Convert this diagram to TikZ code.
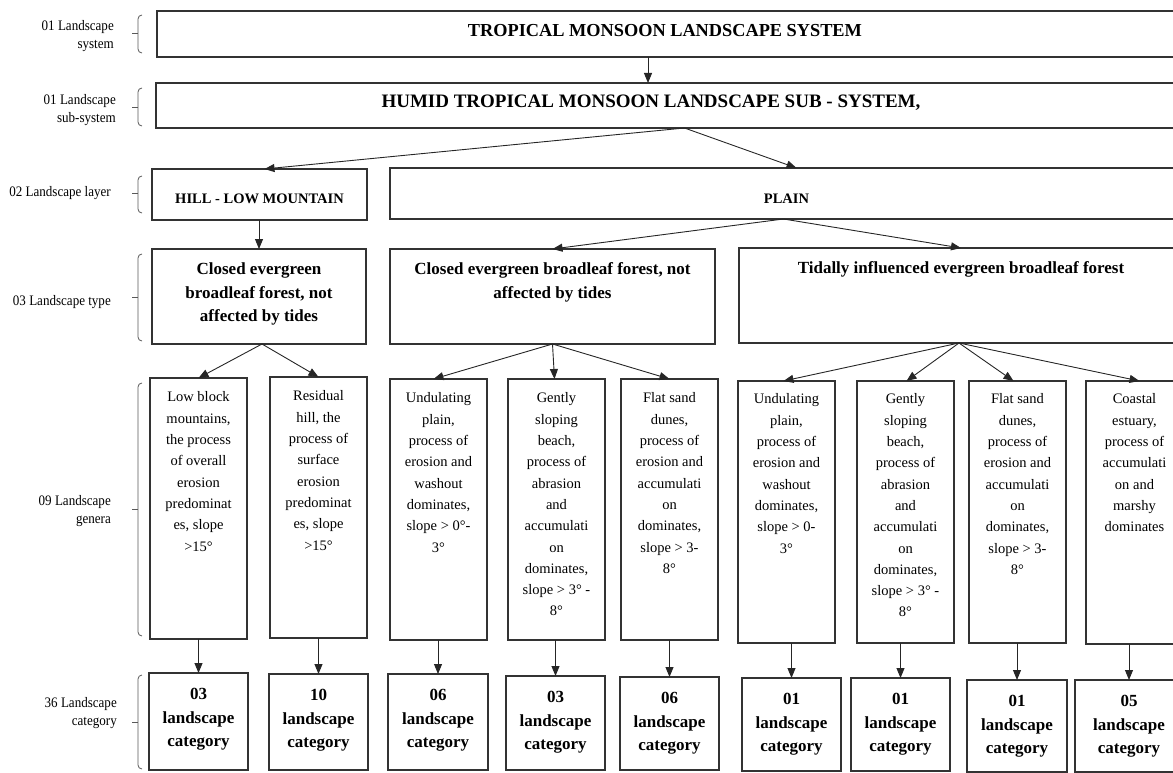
\documentclass[tikz,border=0pt]{standalone}
\usepackage{fontspec}
\setmainfont{Liberation Serif}
\newfontfamily\lblfont{Liberation Serif}[FakeStretch=0.9]
\usetikzlibrary{arrows.meta}
\newcommand{\bxt}[4]{\parbox[c][#2pt][t]{#1pt}{\centering\vspace*{#3pt}\strut #4}}
\newcommand{\ftitle}{\fontsize{18.3}{22}\selectfont\bfseries}
\newcommand{\fsub}{\fontsize{19}{22}\selectfont\bfseries}
\newcommand{\flayer}{\fontsize{14.5}{18}\selectfont\bfseries}
\newcommand{\ftype}{\fontsize{17}{23.5}\selectfont\bfseries}
\newcommand{\fgen}{\fontsize{14.5}{21.3}\selectfont}
\newcommand{\fcat}{\fontsize{17}{23.5}\selectfont\bfseries}
\begin{document}
\begin{tikzpicture}[x=1pt,y=-1pt,
  bx/.style={draw=black!80, line width=1.1pt, inner sep=0pt, outer sep=0pt, anchor=north west},
  arr/.style={-{Triangle[length=10pt,width=8pt]}, line width=0.9pt, draw=black!85},
  lbl/.style={anchor=east, align=right, inner sep=0pt, font=\lblfont\fontsize{14.5}{18.5}\selectfont},
  brc/.style={draw=black!65, line width=0.8pt}]
\useasboundingbox (0,0) rectangle (1173,773);
\clip (0,0) rectangle (1173,773);

% left labels
\node[lbl] (l1) at (114,36) {01 Landscape\\system};
\node[lbl] (l2) at (116,110) {01 Landscape\\sub-system};
\node[lbl] (l3) at (111,193) {02 Landscape layer};
\node[lbl] (l4) at (111,302) {03 Landscape type};
\node[lbl] (l5) at (111,511) {09 Landscape\\genera};
\node[lbl] (l6) at (117,713) {36 Landscape\\category};
\foreach \t/\b/\m in {15/53/33, 88/126/107, 176/213/193, 254/341/297, 383/636/509, 675/769/722}{
  \draw[brc] (142,\t) to[out=180,in=90] (138,\t+4) -- (138,\b-4) to[out=-90,in=180] (142,\b);
  \draw[brc] (132,\m) -- (138,\m);
}

% top levels
\node[bx,font=\ftitle] (sys) at (157,11) {\bxt{1026}{46}{10}{TROPICAL MONSOON LANDSCAPE SYSTEM\hspace*{10pt}}};
\node[bx,font=\fsub] (sub) at (156,83) {\bxt{1027}{45}{9.6}{HUMID TROPICAL MONSOON LANDSCAPE SUB - SYSTEM,\hspace*{37pt}}};
\node[bx,font=\flayer] (hill) at (152,169) {\bxt{215}{51}{22.4}{HILL - LOW MOUNTAIN}};
\node[bx,font=\flayer] (plain) at (390,168) {\bxt{793}{51}{22.7}{PLAIN}};

% types
\node[bx,font=\ftype] (t1) at (152,249) {\bxt{214}{95}{9.5}{Closed evergreen\\broadleaf forest, not\\affected by tides}};
\node[bx,font=\ftype] (t2) at (390,249) {\bxt{325}{95}{9.5}{Closed evergreen broadleaf forest, not\\affected by tides}};
\node[bx,font=\ftype] (t3) at (739,248) {\bxt{444}{95}{9.5}{Tidally influenced evergreen broadleaf forest}};

% genera
\node[bx,font=\fgen] (g1) at (150,378) {\bxt{97}{261}{9}{Low block\\mountains,\\the process\\of overall\\erosion\\predominat\\es, slope\\>15°}};
\node[bx,font=\fgen] (g2) at (270,377) {\bxt{97}{261}{9}{Residual\\hill, the\\process of\\surface\\erosion\\predominat\\es, slope\\>15°}};
\node[bx,font=\fgen] (g3) at (390,379) {\bxt{97}{261}{9}{Undulating\\plain,\\process of\\erosion and\\washout\\dominates,\\slope > 0°-\\3°}};
\node[bx,font=\fgen] (g4) at (508,379) {\bxt{97}{261}{9}{Gently\\sloping\\beach,\\process of\\abrasion\\and\\accumulati\\on\\dominates,\\slope > 3° -\\8°}};
\node[bx,font=\fgen] (g5) at (621,379) {\bxt{97}{261}{9}{Flat sand\\dunes,\\process of\\erosion and\\accumulati\\on\\dominates,\\slope > 3-\\8°}};
\node[bx,font=\fgen] (g6) at (738,381) {\bxt{97}{262}{8}{Undulating\\plain,\\process of\\erosion and\\washout\\dominates,\\slope > 0-\\3°}};
\node[bx,font=\fgen] (g7) at (857,381) {\bxt{97}{262}{8}{Gently\\sloping\\beach,\\process of\\abrasion\\and\\accumulati\\on\\dominates,\\slope > 3° -\\8°}};
\node[bx,font=\fgen] (g8) at (969,381) {\bxt{97}{262}{8}{Flat sand\\dunes,\\process of\\erosion and\\accumulati\\on\\dominates,\\slope > 3-\\8°}};
\node[bx,font=\fgen] (g9) at (1086,381) {\bxt{97}{263}{8}{Coastal\\estuary,\\process of\\accumulati\\on and\\marshy\\dominates}};

% categories
\node[bx,font=\fcat] (c1) at (149,673) {\bxt{99}{97}{10.5}{03\\landscape\\category}};
\node[bx,font=\fcat] (c2) at (269,674) {\bxt{99}{96}{10.5}{10\\landscape\\category}};
\node[bx,font=\fcat] (c3) at (388,674) {\bxt{100}{96}{10.5}{06\\landscape\\category}};
\node[bx,font=\fcat] (c4) at (506,676) {\bxt{99}{94}{10.5}{03\\landscape\\category}};
\node[bx,font=\fcat] (c5) at (620,677) {\bxt{99}{93}{10.5}{06\\landscape\\category}};
\node[bx,font=\fcat] (c6) at (742,678) {\bxt{99}{93}{10.5}{01\\landscape\\category}};
\node[bx,font=\fcat] (c7) at (851,678) {\bxt{99}{93}{10.5}{01\\landscape\\category}};
\node[bx,font=\fcat] (c8) at (967,680) {\bxt{100}{92}{10.5}{01\\landscape\\category}};
\node[bx,font=\fcat] (c9) at (1075,680) {\bxt{108}{92}{10.5}{05\\landscape\\category}};

% connectors
\draw[arr] ([xshift=-22pt]sys.south) -- ([xshift=-21.5pt]sub.north);
\coordinate (os) at ([xshift=15pt]sub.south);
\draw[arr] (os) -- ([xshift=5pt]hill.north);
\draw[arr] (os) -- ([xshift=10pt]plain.north);
\draw[arr] (t1.north |- hill.south) -- (t1.north);
\coordinate (op) at ([xshift=-3pt]plain.south);
\draw[arr] (op) -- (t2.north);
\draw[arr] (op) -- (t3.north);
\draw[arr] ([xshift=3pt]t1.south) -- (g1.north);
\draw[arr] ([xshift=3pt]t1.south) -- (g2.north);
\draw[arr] (t2.south) -- ([xshift=-5pt]g3.north);
\draw[arr] (t2.south) -- ([xshift=-2pt]g4.north);
\draw[arr] (t2.south) -- (g5.north);
\coordinate (ot) at ([xshift=-2pt]t3.south);
\draw[arr] (ot) -- ([xshift=-3pt]g6.north);
\draw[arr] (ot) -- ([xshift=1pt]g7.north);
\draw[arr] (ot) -- ([xshift=-4pt]g8.north);
\draw[arr] (ot) -- ([xshift=5pt]g9.north);
\foreach \i in {1,...,9}{
  \draw[arr] (c\i.north |- g\i.south) -- (c\i.north);
}
\end{tikzpicture}
\end{document}
